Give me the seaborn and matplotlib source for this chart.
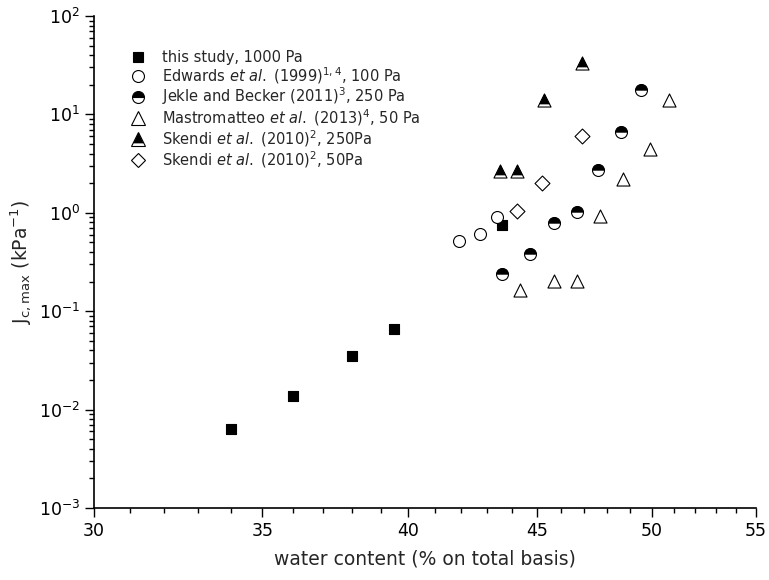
import numpy as np
import pandas as pd
import matplotlib
matplotlib.use("Agg")
import matplotlib.pyplot as plt
import seaborn as sns
from matplotlib.path import Path
from matplotlib.markers import MarkerStyle
from matplotlib.lines import Line2D
from matplotlib.ticker import FixedLocator, FixedFormatter, NullFormatter

# ---- data: water content (%) vs J_c,max (kPa^-1) ----
this_x = [34.0, 36.0, 38.0, 39.5, 43.6]
this_y = [0.0063, 0.0138, 0.0353, 0.066, 0.75]

edwards_x = [41.9, 42.7, 43.4]
edwards_y = [0.52, 0.61, 0.91]

jekle_x = [43.6, 44.7, 45.7, 46.7, 47.6, 48.6, 49.5]
jekle_y = [0.24, 0.38, 0.78, 1.01, 2.72, 6.7, 17.5]

mastro_x = [44.3, 45.7, 46.7, 47.7, 48.7, 49.9, 50.8]
mastro_y = [0.164, 0.203, 0.203, 0.93, 2.19, 4.5, 14.0]

skendi250_x = [43.5, 44.2, 45.3, 46.9]
skendi250_y = [2.68, 2.68, 14.0, 33.0]

skendi50_x = [44.2, 45.2, 46.9]
skendi50_y = [1.04, 2.0, 6.0]

labels = [
    "this study, 1000 Pa",
    r"Edwards $\it{et\ al.}$ (1999)$^{1,4}$, 100 Pa",
    r"Jekle and Becker (2011)$^{3}$, 250 Pa",
    r"Mastromatteo $\it{et\ al.}$ (2013)$^{4}$, 50 Pa",
    r"Skendi $\it{et\ al.}$ (2010)$^{2}$, 250Pa",
    r"Skendi $\it{et\ al.}$ (2010)$^{2}$, 50Pa",
]

x_major = [30, 35, 40, 45, 50, 55]
x_minor = [v for v in range(31, 55) if v % 5]

sns.set_style("ticks")
plt.rcParams["font.family"] = ["DejaVu Sans"]
plt.rcParams["mathtext.fontset"] = "dejavusans"

fig = plt.figure(figsize=(7.69, 5.80), dpi=100)
ax = fig.add_axes([94 / 769, 1 - 508 / 580, (756 - 94) / 769, (508 - 16) / 580])

# marker geometry
S_SQ, S_O, S_TRI, S_D = 7.6, 8.6, 9.4, 7.6
EW = 0.8
half_disc = MarkerStyle("o", fillstyle="top")
# upper part of a '^' triangle (apex at 1, base at -1, cut at -0.55)
cut = -0.55
tri_top = Path([(0, 1), (-(1 - cut) / 2, cut), ((1 - cut) / 2, cut), (0, 1)],
               [Path.MOVETO, Path.LINETO, Path.LINETO, Path.CLOSEPOLY])


def frame(xs, ys):
    return pd.DataFrame({"x": xs, "y": ys})


def layer(xs, ys, marker, size, face, edge, lw=EW, z=3):
    sns.scatterplot(data=frame(xs, ys), x="x", y="y", ax=ax, marker=marker,
                    s=size ** 2, color=face, edgecolor=edge, linewidth=lw,
                    zorder=z, legend=False)


layer(this_x, this_y, "s", S_SQ, "black", "black")
layer(edwards_x, edwards_y, "o", S_O, "white", "black")
layer(jekle_x, jekle_y, "o", S_O, "white", "black")
layer(jekle_x, jekle_y, half_disc, S_O, "black", "black", lw=0.3, z=4)
layer(mastro_x, mastro_y, "^", S_TRI, "white", "black")
layer(skendi250_x, skendi250_y, "^", S_TRI, "white", "black")
layer(skendi250_x, skendi250_y, tri_top, S_TRI, "black", "black", lw=0.3, z=4)
layer(skendi50_x, skendi50_y, "D", S_D, "white", "black")

# axes scales and ticks
ax.set_xscale("log")
ax.set_yscale("log")
ax.set_xlim(30, 55)
ax.set_ylim(1e-3, 1e2)
ax.xaxis.set_major_locator(FixedLocator(x_major))
ax.xaxis.set_major_formatter(FixedFormatter([str(v) for v in x_major]))
ax.xaxis.set_minor_locator(FixedLocator(x_minor))
ax.xaxis.set_minor_formatter(NullFormatter())
ax.yaxis.set_minor_formatter(NullFormatter())

ax.tick_params(which="major", direction="out", length=6.7, width=1.0,
               labelsize=12.5, pad=3.5, color="black", labelcolor="black")
ax.tick_params(which="minor", direction="out", length=3.6, width=1.0,
               color="black")
for side in ("left", "bottom"):
    ax.spines[side].set_linewidth(1.2)
    ax.spines[side].set_color("black")
sns.despine(ax=ax)

ax.set_xlabel("water content (% on total basis)", fontsize=13.5, labelpad=7)
ax.set_ylabel(r"J$_{\mathrm{c,max}}$ (kPa$^{-1}$)", fontsize=13.5, labelpad=3)

# legend
handles = [
    Line2D([], [], ls="none", marker="s", ms=S_SQ, mfc="black", mec="black", mew=EW),
    Line2D([], [], ls="none", marker="o", ms=S_O, mfc="white", mec="black", mew=EW),
    Line2D([], [], ls="none", marker="o", ms=S_O, fillstyle="top", mfc="black",
           mfcalt="white", mec="black", mew=EW),
    Line2D([], [], ls="none", marker="^", ms=S_TRI, mfc="white", mec="black", mew=EW),
    (Line2D([], [], ls="none", marker="^", ms=S_TRI, mfc="white", mec="black", mew=EW),
     Line2D([], [], ls="none", marker=tri_top, ms=S_TRI, mfc="black", mec="black", mew=0.3)),
    Line2D([], [], ls="none", marker="D", ms=S_D, mfc="white", mec="black", mew=EW),
]
ax.legend(handles, labels, loc="upper left", bbox_to_anchor=(131 / 769, 1 - 50 / 580),
          bbox_transform=fig.transFigure, frameon=False, fontsize=10.5,
          handlelength=1.0, handletextpad=1.1, labelspacing=0.0,
          borderpad=0, borderaxespad=0, numpoints=1)

fig.savefig("out.png", dpi=100)
